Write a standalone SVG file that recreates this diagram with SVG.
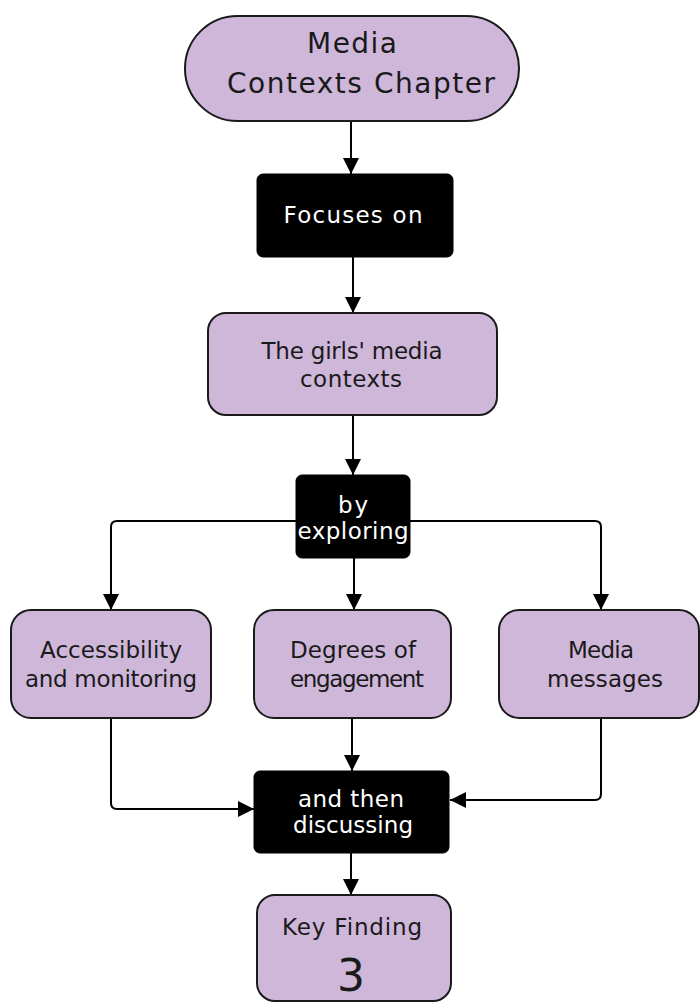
<svg xmlns="http://www.w3.org/2000/svg" width="700" height="1003" viewBox="0 0 700 1003">
<defs>
<marker id="arr" markerUnits="userSpaceOnUse" markerWidth="18" markerHeight="18" refX="16" refY="8" orient="auto">
<path d="M0,0 L16,8 L0,16 z" fill="#000"/>
</marker>
<style>
.lav{fill:#cfb7da;stroke:#1a1a1a;stroke-width:2}
.blk{fill:#000;stroke:#000;stroke-width:1}
.t{font-family:"DejaVu Sans","Liberation Sans",sans-serif;font-size:23px;text-anchor:middle;fill:#1a1a1a}
.big{font-size:28px}
.w{fill:#fff}
.c{fill:none;stroke:#000;stroke-width:2;marker-end:url(#arr)}
</style>
</defs>
<rect width="700" height="1003" fill="#fff"/>
<g id="connectors">
<path class="c" d="M351,122 V174"/>
<path class="c" d="M353,257 V313"/>
<path class="c" d="M353,415 V475"/>
<path class="c" d="M296,521 H117 Q111,521 111,527 V610"/>
<path class="c" d="M354,558 V610"/>
<path class="c" d="M410,521 H595 Q601,521 601,527 V610"/>
<path class="c" d="M111,718 V803 Q111,809 117,809 H254"/>
<path class="c" d="M352,718 V771"/>
<path class="c" d="M601,718 V794 Q601,800 595,800 H450"/>
<path class="c" d="M351,853 V895"/>
</g>
<g id="n-title">
<rect class="lav" x="185" y="16" width="334" height="105" rx="52.5"/>
<text class="t big" x="352" y="53" textLength="90">Media</text>
<text class="t big" x="361" y="93" textLength="268">Contexts Chapter</text>
</g>
<g id="n-focuses">
<rect class="blk" x="257" y="174" width="196" height="83" rx="6"/>
<text class="t w" x="353" y="223" textLength="139">Focuses on</text>
</g>
<g id="n-girls">
<rect class="lav" x="208" y="313" width="289" height="102" rx="18"/>
<text class="t" x="352" y="359" textLength="181">The girls' media</text>
<text class="t" x="351" y="387" textLength="102">contexts</text>
</g>
<g id="n-exploring">
<rect class="blk" x="296" y="475" width="114" height="83" rx="6"/>
<text class="t w" x="353" y="513" textLength="30">by</text>
<text class="t w" x="353" y="539" textLength="111">exploring</text>
</g>
<g id="n-access">
<rect class="lav" x="11" y="610" width="200" height="108" rx="20"/>
<text class="t" x="111" y="658" textLength="142">Accessibility</text>
<text class="t" x="111" y="687" textLength="172">and monitoring</text>
</g>
<g id="n-degrees">
<rect class="lav" x="254" y="610" width="197" height="108" rx="20"/>
<text class="t" x="353" y="658" textLength="126">Degrees of</text>
<text class="t" x="357" y="687" textLength="134">engagement</text>
</g>
<g id="n-messages">
<rect class="lav" x="499" y="610" width="200" height="108" rx="20"/>
<text class="t" x="601" y="658" textLength="66">Media</text>
<text class="t" x="605" y="687" textLength="116">messages</text>
</g>
<g id="n-discussing">
<rect class="blk" x="254" y="771" width="195" height="82" rx="6"/>
<text class="t w" x="351" y="807" textLength="106">and then</text>
<text class="t w" x="353" y="833" textLength="120">discussing</text>
</g>
<g id="n-key">
<rect class="lav" x="257" y="895" width="194" height="106" rx="18"/>
<text class="t" x="352" y="935" textLength="140">Key Finding</text>
<text class="t" x="351" y="991" style="font-size:44px">3</text>
</g>
</svg>
